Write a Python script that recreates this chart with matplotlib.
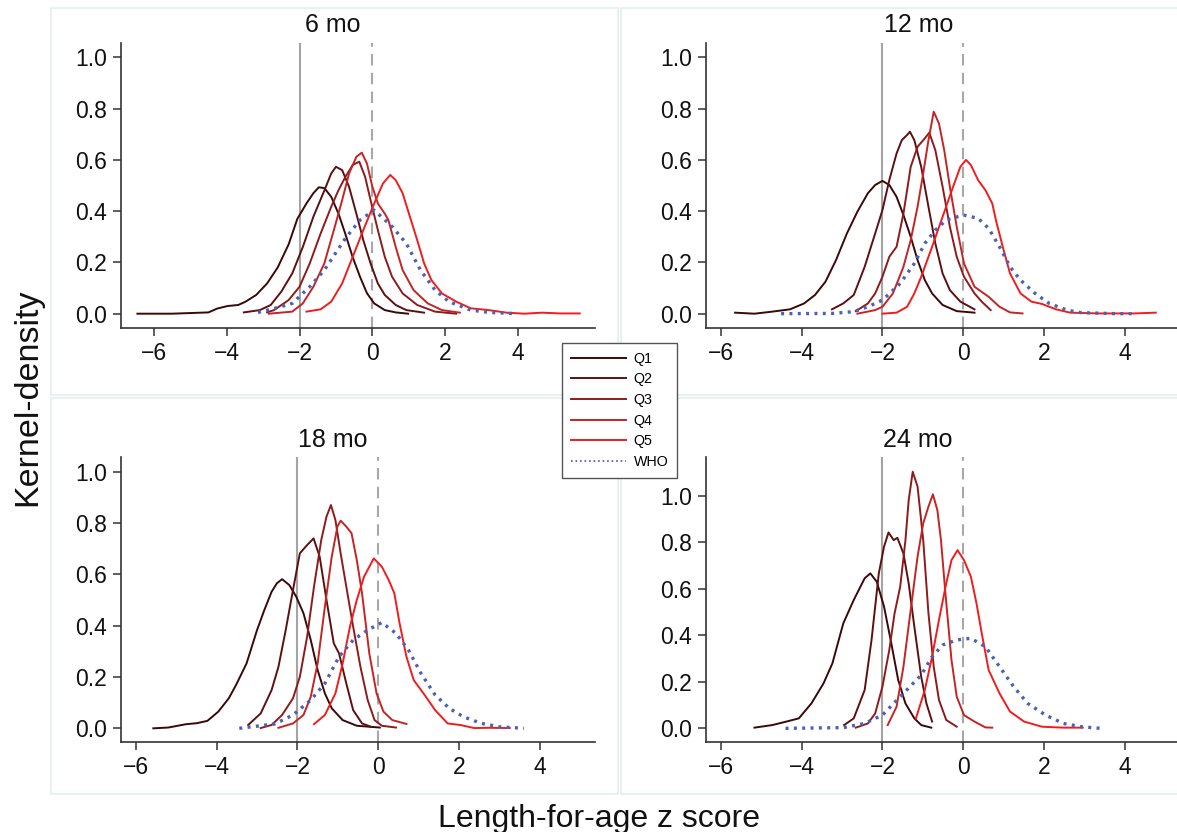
import matplotlib
matplotlib.use("Agg")
import matplotlib.pyplot as plt
from matplotlib.patches import Rectangle
from matplotlib.ticker import FormatStrFormatter

plt.rcParams['font.family'] = ['Liberation Sans', 'DejaVu Sans']

# ---------------- data ----------------
series_labels = ["Q1", "Q2", "Q3", "Q4", "Q5", "WHO"]
panel_titles = ["6 mo", "12 mo", "18 mo", "24 mo"]
x_ticks = [-6, -4, -2, 0, 2, 4]
y_ticks = [0.0, 0.2, 0.4, 0.6, 0.8, 1.0]
ref_lines = [-2, 0]

# 6 mo
q1_6_x = [-6.45, -5.5, -4.5, -4.26, -3.97, -3.68, -3.48, -3.19, -2.89, -2.6, -2.3, -2.06, -1.81, -1.62, -1.47, -1.32, -1.13, -0.93, -0.74, -0.54, -0.34, -0.15, 0.05, 0.34, 0.64, 0.98]
q1_6_y = [0.0, 0.0, 0.005, 0.02, 0.03, 0.034, 0.047, 0.073, 0.118, 0.18, 0.27, 0.37, 0.43, 0.47, 0.493, 0.49, 0.456, 0.39, 0.31, 0.22, 0.144, 0.08, 0.04, 0.014, 0.005, 0.0]
q2_6_x = [-3.53, -3.09, -2.79, -2.5, -2.2, -1.91, -1.62, -1.32, -1.13, -1.0, -0.83, -0.64, -0.44, -0.25, -0.05, 0.15, 0.34, 0.64, 0.93, 1.42]
q2_6_y = [0.005, 0.014, 0.034, 0.086, 0.157, 0.26, 0.378, 0.48, 0.547, 0.573, 0.56, 0.495, 0.39, 0.287, 0.196, 0.118, 0.073, 0.034, 0.014, 0.004]
q3_6_x = [-2.89, -2.7, -2.3, -2.0, -1.72, -1.42, -1.13, -0.93, -0.74, -0.54, -0.36, -0.2, -0.05, 0.15, 0.34, 0.54, 0.83, 1.23, 1.72, 2.3]
q3_6_y = [0.005, 0.014, 0.053, 0.105, 0.196, 0.313, 0.417, 0.482, 0.534, 0.58, 0.593, 0.534, 0.443, 0.326, 0.222, 0.144, 0.079, 0.034, 0.008, 0.0]
q4_6_x = [-2.84, -2.2, -1.91, -1.62, -1.32, -1.03, -0.83, -0.64, -0.44, -0.29, -0.15, 0.0, 0.15, 0.34, 0.44, 0.64, 0.83, 1.13, 1.52, 1.91, 2.4]
q4_6_y = [0.0, 0.008, 0.04, 0.105, 0.196, 0.34, 0.443, 0.547, 0.612, 0.628, 0.586, 0.495, 0.43, 0.39, 0.365, 0.26, 0.17, 0.092, 0.04, 0.014, 0.004]
q5_6_x = [-1.81, -1.42, -1.13, -0.83, -0.54, -0.25, 0.05, 0.29, 0.49, 0.64, 0.83, 1.03, 1.23, 1.42, 1.62, 1.91, 2.3, 2.7, 3.19, 3.68, 4.17, 4.66, 5.15, 5.69]
q5_6_y = [0.008, 0.017, 0.047, 0.118, 0.222, 0.326, 0.43, 0.508, 0.541, 0.521, 0.47, 0.378, 0.287, 0.196, 0.131, 0.079, 0.047, 0.021, 0.014, 0.004, 0.0, 0.004, 0.001, 0.001]
who_6_x = [-3.14, -2.7, -2.2, -1.72, -1.32, -0.74, -0.34, 0.05, 0.54, 0.93, 1.32, 1.72, 2.1, 2.7, 3.2, 3.97]
who_6_y = [0.005, 0.02, 0.04, 0.105, 0.17, 0.294, 0.365, 0.404, 0.34, 0.274, 0.17, 0.092, 0.047, 0.014, 0.005, 0.0]

# 12 mo
q1_12_x = [-5.65, -5.17, -4.73, -4.29, -3.94, -3.67, -3.41, -3.15, -2.88, -2.62, -2.36, -2.18, -2.0, -1.83, -1.65, -1.48, -1.3, -1.13, -0.95, -0.77, -0.51, -0.16, 0.28]
q1_12_y = [0.004, 0.0, 0.008, 0.017, 0.04, 0.073, 0.125, 0.209, 0.313, 0.398, 0.47, 0.502, 0.518, 0.502, 0.456, 0.385, 0.3, 0.209, 0.131, 0.079, 0.034, 0.01, 0.004]
q2_12_x = [-3.25, -2.97, -2.71, -2.44, -2.18, -2.0, -1.83, -1.65, -1.52, -1.39, -1.32, -1.21, -1.04, -0.86, -0.69, -0.51, -0.33, -0.07, 0.28]
q2_12_y = [0.017, 0.04, 0.073, 0.183, 0.313, 0.404, 0.521, 0.625, 0.677, 0.697, 0.71, 0.677, 0.573, 0.417, 0.274, 0.157, 0.092, 0.047, 0.017]
q3_12_x = [-2.66, -2.36, -2.18, -2.0, -1.83, -1.65, -1.48, -1.3, -1.13, -0.95, -0.84, -0.69, -0.51, -0.33, -0.16, 0.02, 0.28, 0.46, 0.68]
q3_12_y = [0.01, 0.04, 0.079, 0.144, 0.222, 0.261, 0.39, 0.573, 0.651, 0.684, 0.706, 0.638, 0.495, 0.339, 0.222, 0.144, 0.079, 0.047, 0.014]
q4_12_x = [-2.62, -2.18, -2.0, -1.74, -1.48, -1.3, -1.13, -0.99, -0.86, -0.73, -0.6, -0.47, -0.33, -0.16, 0.02, 0.28, 0.63, 0.9, 1.16, 1.47]
q4_12_y = [0.0, 0.014, 0.027, 0.079, 0.183, 0.287, 0.417, 0.547, 0.677, 0.788, 0.742, 0.638, 0.495, 0.339, 0.196, 0.105, 0.066, 0.027, 0.005, 0.001]
q5_12_x = [-2.0, -1.65, -1.39, -1.21, -1.04, -0.77, -0.51, -0.25, -0.07, 0.07, 0.19, 0.37, 0.55, 0.72, 0.81, 0.98, 1.16, 1.42, 1.69, 1.95, 2.3, 2.65, 3.36, 4.24, 4.77]
q5_12_y = [0.0, 0.004, 0.027, 0.079, 0.144, 0.261, 0.378, 0.495, 0.573, 0.6, 0.58, 0.521, 0.482, 0.43, 0.365, 0.261, 0.157, 0.079, 0.047, 0.038, 0.017, 0.004, 0.001, 0.001, 0.004]
who_12_x = [-4.51, -3.24, -2.71, -2.36, -2.0, -1.56, -1.21, -0.95, -0.69, -0.42, 0.0, 0.37, 0.63, 0.9, 1.16, 1.42, 1.78, 2.13, 2.57, 2.92, 3.8, 4.28]
who_12_y = [0.0, 0.001, 0.008, 0.027, 0.053, 0.118, 0.196, 0.274, 0.326, 0.365, 0.385, 0.372, 0.333, 0.261, 0.183, 0.131, 0.079, 0.04, 0.014, 0.004, 0.0, 0.0]

# 18 mo
q1_18_x = [-5.57, -5.2, -4.76, -4.49, -4.23, -3.96, -3.7, -3.52, -3.26, -3.0, -2.82, -2.64, -2.51, -2.38, -2.2, -2.03, -1.85, -1.67, -1.5, -1.32, -1.15, -0.88, -0.53, 0.04]
q1_18_y = [0.0, 0.003, 0.016, 0.02, 0.029, 0.065, 0.117, 0.169, 0.253, 0.383, 0.461, 0.532, 0.565, 0.581, 0.558, 0.513, 0.448, 0.344, 0.227, 0.136, 0.078, 0.032, 0.01, 0.003]
q2_18_x = [-3.22, -2.91, -2.64, -2.47, -2.29, -2.11, -1.94, -1.76, -1.6, -1.45, -1.28, -1.1, -0.97, -0.79, -0.62, -0.4, -0.18]
q2_18_y = [0.013, 0.058, 0.149, 0.24, 0.383, 0.539, 0.682, 0.714, 0.74, 0.669, 0.5, 0.331, 0.292, 0.175, 0.071, 0.019, 0.006]
q3_18_x = [-2.91, -2.64, -2.38, -2.11, -1.94, -1.76, -1.59, -1.41, -1.28, -1.17, -1.06, -0.93, -0.79, -0.62, -0.44, -0.26, -0.09, 0.09, 0.44]
q3_18_y = [0.001, 0.013, 0.052, 0.117, 0.201, 0.357, 0.552, 0.734, 0.825, 0.87, 0.812, 0.682, 0.552, 0.396, 0.24, 0.11, 0.032, 0.01, 0.003]
q4_18_x = [-2.47, -2.11, -1.85, -1.67, -1.5, -1.32, -1.15, -1.01, -0.93, -0.79, -0.66, -0.53, -0.4, -0.22, -0.04, 0.13, 0.35, 0.7]
q4_18_y = [0.002, 0.019, 0.052, 0.123, 0.253, 0.474, 0.669, 0.786, 0.809, 0.786, 0.76, 0.656, 0.526, 0.292, 0.136, 0.065, 0.032, 0.017]
q5_18_x = [-1.59, -1.32, -1.06, -0.88, -0.7, -0.53, -0.35, -0.11, 0.09, 0.26, 0.4, 0.53, 0.7, 0.88, 1.15, 1.41, 1.72, 2.03, 2.38, 2.73, 3.26]
q5_18_y = [0.016, 0.052, 0.136, 0.253, 0.396, 0.5, 0.591, 0.662, 0.63, 0.578, 0.526, 0.409, 0.279, 0.188, 0.13, 0.071, 0.019, 0.013, 0.001, 0.002, 0.001]
who_18_x = [-3.44, -2.56, -2.11, -1.67, -1.32, -0.97, -0.62, -0.26, 0.09, 0.44, 0.75, 1.06, 1.41, 1.76, 2.11, 2.56, 3.0, 3.61]
who_18_y = [0.0, 0.017, 0.052, 0.11, 0.175, 0.279, 0.344, 0.383, 0.412, 0.37, 0.305, 0.214, 0.13, 0.078, 0.045, 0.019, 0.006, 0.0]

# 24 mo
q1_24_x = [-5.17, -4.73, -4.38, -4.07, -3.76, -3.46, -3.24, -2.97, -2.71, -2.44, -2.3, -2.14, -1.96, -1.78, -1.61, -1.43, -1.21, -1.04, -0.79]
q1_24_y = [0.003, 0.014, 0.029, 0.043, 0.107, 0.193, 0.279, 0.451, 0.552, 0.645, 0.666, 0.63, 0.523, 0.365, 0.208, 0.107, 0.043, 0.014, 0.003]
q2_24_x = [-2.95, -2.71, -2.44, -2.27, -2.09, -1.96, -1.85, -1.72, -1.63, -1.48, -1.35, -1.21, -1.04, -0.91, -0.77]
q2_24_y = [0.014, 0.043, 0.165, 0.38, 0.666, 0.781, 0.842, 0.809, 0.819, 0.752, 0.623, 0.437, 0.222, 0.107, 0.029]
q3_24_x = [-2.66, -2.36, -2.18, -2.0, -1.83, -1.7, -1.56, -1.43, -1.35, -1.25, -1.13, -0.99, -0.86, -0.73, -0.6, -0.42, -0.16]
q3_24_y = [0.003, 0.021, 0.064, 0.179, 0.337, 0.494, 0.609, 0.809, 0.981, 1.103, 1.039, 0.809, 0.494, 0.265, 0.122, 0.036, 0.007]
q4_24_x = [-1.87, -1.65, -1.48, -1.3, -1.13, -0.99, -0.86, -0.75, -0.64, -0.55, -0.44, -0.29, -0.16, 0.02, 0.28, 0.55, 0.72]
q4_24_y = [0.014, 0.093, 0.265, 0.509, 0.738, 0.881, 0.953, 1.006, 0.938, 0.809, 0.58, 0.294, 0.136, 0.057, 0.029, 0.004, 0.003]
q5_24_x = [-1.17, -0.95, -0.77, -0.6, -0.42, -0.29, -0.14, 0.02, 0.19, 0.33, 0.46, 0.63, 0.9, 1.16, 1.51, 1.95, 2.48, 2.96]
q5_24_y = [0.043, 0.165, 0.308, 0.466, 0.623, 0.723, 0.766, 0.723, 0.652, 0.537, 0.408, 0.251, 0.15, 0.072, 0.029, 0.007, 0.003, 0.003]
who_24_x = [-4.4, -2.97, -2.44, -2.0, -1.56, -1.04, -0.77, -0.51, -0.16, 0.19, 0.55, 0.9, 1.25, 1.6, 2.04, 2.48, 2.92, 3.4]
who_24_y = [0.0, 0.003, 0.021, 0.057, 0.136, 0.229, 0.308, 0.358, 0.38, 0.387, 0.351, 0.265, 0.179, 0.107, 0.057, 0.021, 0.007, 0.0]

# ---------------- styling ----------------
W, H = 1177, 832
q_colors = ['#3a0808', '#5c1010', '#8e1b1b', '#c42424', '#f01c1e']
who_color = '#4a62b4'

panel_series = [
    [(q1_6_x, q1_6_y), (q2_6_x, q2_6_y), (q3_6_x, q3_6_y), (q4_6_x, q4_6_y), (q5_6_x, q5_6_y), (who_6_x, who_6_y)],
    [(q1_12_x, q1_12_y), (q2_12_x, q2_12_y), (q3_12_x, q3_12_y), (q4_12_x, q4_12_y), (q5_12_x, q5_12_y), (who_12_x, who_12_y)],
    [(q1_18_x, q1_18_y), (q2_18_x, q2_18_y), (q3_18_x, q3_18_y), (q4_18_x, q4_18_y), (q5_18_x, q5_18_y), (who_18_x, who_18_y)],
    [(q1_24_x, q1_24_y), (q2_24_x, q2_24_y), (q3_24_x, q3_24_y), (q4_24_x, q4_24_y), (q5_24_x, q5_24_y), (who_24_x, who_24_y)],
]

# pixel boxes (left, top, right, bottom)
ax_boxes = [(121, 42.7, 595, 328.3), (706, 42.7, 1180, 328.3),
            (121, 457.3, 595, 742.3), (706, 457.3, 1180, 742.3)]
xlims = [(-6.9, 6.11), (-6.37, 5.37), (-6.37, 5.37), (-6.37, 5.37)]
ylims = [(-0.057, 1.057), (-0.057, 1.057), (-0.0545, 1.056), (-0.060, 1.165)]
title_pos = [(333, 32.3), (919, 32.3), (333, 446.7), (918, 446.7)]
frame_boxes = [(51, 8, 618, 395), (621, 8, 1190, 395),
               (51, 398, 618, 794), (621, 398, 1190, 794)]


def frac(l, t, r, b):
    return [l / W, 1 - b / H, (r - l) / W, (b - t) / H]


fig = plt.figure(figsize=(W / 100, H / 100), dpi=100)
fig.patch.set_facecolor('white')

for (l, t, r, b) in frame_boxes:
    fig.patches.append(Rectangle((l / W, 1 - b / H), (r - l) / W, (b - t) / H,
                                 transform=fig.transFigure, fill=False,
                                 edgecolor='#e4eeee', linewidth=1.2, zorder=0))

handles = []
for i in range(4):
    ax = fig.add_axes(frac(*ax_boxes[i]))
    ax.set_facecolor('none')
    ax.axvline(ref_lines[0], color='#a4a4a4', lw=1.5, zorder=1)
    ax.axvline(ref_lines[1], color='#a8a8a8', lw=1.5, dashes=(5.5, 3.5), zorder=1)
    for j, (xs, ys) in enumerate(panel_series[i]):
        if j < 5:
            ln, = ax.plot(xs, ys, color=q_colors[j], lw=1.4, zorder=3,
                          solid_joinstyle='round')
        else:
            ln, = ax.plot(xs, ys, color=who_color, lw=2.4,
                          linestyle=(0, (0.9, 1.6)), dash_capstyle='butt', zorder=4)
        if i == 0:
            handles.append(ln)
    ax.set_xlim(*xlims[i])
    ax.set_ylim(*ylims[i])
    ax.set_xticks(x_ticks)
    ax.set_yticks(y_ticks)
    ax.yaxis.set_major_formatter(FormatStrFormatter('%.1f'))
    for s in ['top', 'right']:
        ax.spines[s].set_visible(False)
    for s in ['left', 'bottom']:
        ax.spines[s].set_color('#333333')
        ax.spines[s].set_linewidth(1.2)
    ax.tick_params(direction='out', length=6, width=1.1, color='#333333',
                   labelsize=16.5, pad=4, labelcolor='#111111')
    tx, ty = title_pos[i]
    fig.text(tx / W, 1 - ty / H, panel_titles[i], ha='center', va='baseline',
             fontsize=18, color='#111111')

leg = fig.legend(handles, series_labels, loc='upper left',
                 bbox_to_anchor=(562 / W, 1 - 343 / H), borderaxespad=0,
                 fontsize=10.3, handlelength=3.9, labelspacing=0.47,
                 borderpad=0.6, handletextpad=0.5, fancybox=False,
                 framealpha=1, edgecolor='#555555')
leg.get_frame().set_linewidth(1.0)
for lh in leg.get_lines()[5:]:
    lh.set_linewidth(1.3)

fig.text(28 / W, 1 - 397 / H, 'Kernel-density', rotation=90, ha='center',
         va='center', fontsize=24.5, color='#111111')
fig.text(599 / W, 1 - 827 / H, 'Length-for-age z score', ha='center',
         va='baseline', fontsize=23, color='#111111')

fig.savefig('out.png', dpi=100)
